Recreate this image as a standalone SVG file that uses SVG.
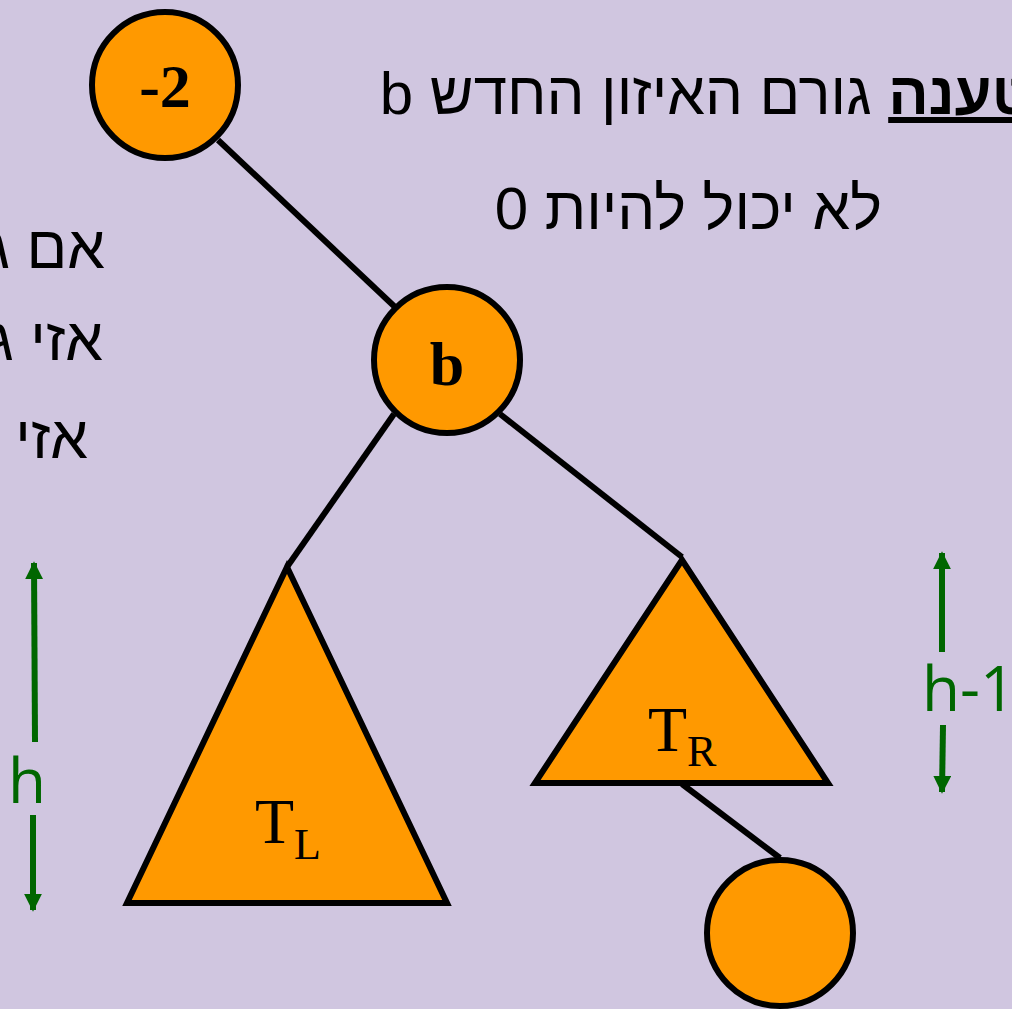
<svg xmlns="http://www.w3.org/2000/svg" width="1012" height="1009" viewBox="0 0 1012 1009">
<defs>
<style>
.node{fill:#FF9900;stroke:#000;stroke-width:6}
.tri{fill:#FF9900;stroke:#000;stroke-width:6;stroke-linejoin:miter}
.edge{stroke:#000;stroke-width:6;fill:none}
.dim{stroke:#006600;stroke-width:6;fill:none}
.heb{font-family:"Liberation Sans","DejaVu Sans",sans-serif;font-size:60px;fill:#000}
.lbl{font-family:"Liberation Serif","Times New Roman",serif;font-weight:bold;font-size:62px;fill:#000}
.tlab{font-family:"Liberation Serif","Times New Roman",serif;font-size:64px;fill:#000}
.sub{font-size:44px}
.g{font-family:"Comic Sans MS","Open Sans","DejaVu Sans",sans-serif;font-size:62px;fill:#006600}
</style>
<marker id="ah" viewBox="0 0 10 10" refX="9" refY="5" markerWidth="3" markerHeight="3" orient="auto" markerUnits="strokeWidth">
<path d="M0,0 L10,5 L0,10 z" fill="#006600"/>
</marker>
</defs>
<rect width="1012" height="1009" fill="#D0C6E0"/>
<g id="connectors">
<line class="edge" x1="218" y1="140" x2="395" y2="307"/>
<line class="edge" x1="394" y1="414" x2="287" y2="567"/>
<line class="edge" x1="500" y1="414" x2="682" y2="557"/>
<line class="edge" x1="682" y1="784" x2="780" y2="858"/>
</g>
<g id="node-m2">
<circle class="node" cx="165" cy="85" r="73"/>
<text class="lbl" x="165" y="107" text-anchor="middle">-2</text>
</g>
<g id="node-b">
<circle class="node" cx="447" cy="360" r="73"/>
<text class="lbl" x="447" y="385" text-anchor="middle">b</text>
</g>
<g id="node-leaf">
<circle class="node" cx="780" cy="933" r="73"/>
</g>
<g id="tree-TL">
<polygon class="tri" points="287,567 447,903 127,903"/>
<text class="tlab" x="255" y="843">T<tspan class="sub" dy="16">L</tspan></text>
</g>
<g id="tree-TR">
<polygon class="tri" points="682,560 828,783 535,783"/>
<text class="tlab" x="648" y="751">T<tspan class="sub" dy="15">R</tspan></text>
</g>
<g id="dim-h">
<line class="dim" x1="35" y1="742" x2="34" y2="563" marker-end="url(#ah)"/>
<line class="dim" x1="33" y1="815" x2="33" y2="910" marker-end="url(#ah)"/>
<text class="g" x="27" y="803" text-anchor="middle">h</text>
</g>
<g id="dim-h1">
<line class="dim" x1="942" y1="652" x2="942" y2="553" marker-end="url(#ah)"/>
<line class="dim" x1="943" y1="725" x2="942" y2="792" marker-end="url(#ah)"/>
<text class="g" x="922" y="711">h-1</text>
</g>
<g id="texts">
<text class="heb" x="1033" y="114" direction="rtl" text-anchor="start"><tspan font-weight="bold" text-decoration="underline">טענה</tspan> גורם האיזון החדש b</text>
<text class="heb" x="882" y="229" direction="rtl" text-anchor="start">לא יכול להיות 0</text>
<text class="heb" x="105" y="268" direction="rtl" text-anchor="start">אם ג</text>
<text class="heb" x="103" y="360" direction="rtl" text-anchor="start">אזי ג</text>
<text class="heb" x="88" y="458" direction="rtl" text-anchor="start">אזי</text>
</g>
</svg>
